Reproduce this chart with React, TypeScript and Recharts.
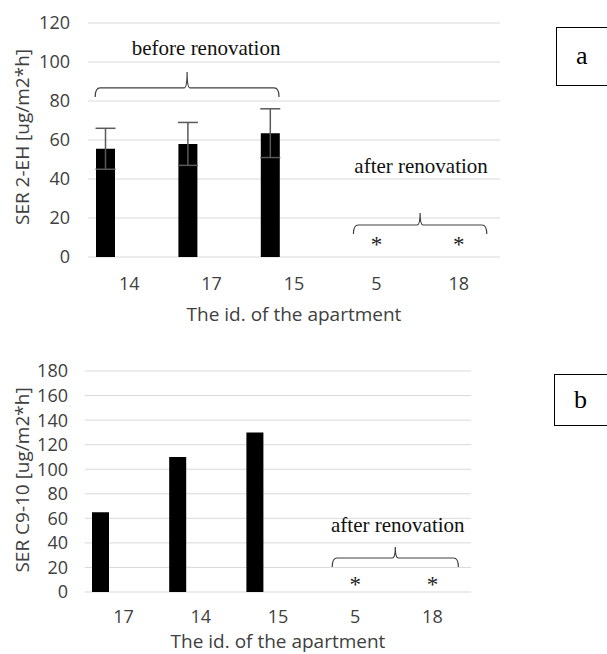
import React from "react";
import {
  Bar,
  BarChart,
  CartesianGrid,
  ErrorBar,
  Label,
  ReferenceDot,
  ReferenceLine,
  XAxis,
  YAxis
} from "recharts";

// panel a: SER of 2-EH
const idsA = ["14", "17", "15", "5", "18"];
const ser2EhBefore = [55.5, 58, 63.5, null, null];
const ser2EhSd = [10.5, 11, 12.5, null, null];
const ser2EhAfter = [null, null, null, 0, 0];
const ticksA = [0, 20, 40, 60, 80, 100, 120];

// panel b: SER of C9-10
const idsB = ["17", "14", "15", "5", "18"];
const serC910Before = [65, 110, 130, null, null];
const serC910After = [null, null, null, 0, 0];
const ticksB = [0, 20, 40, 60, 80, 100, 120, 140, 160, 180];

// ids measured after renovation, below detection (*)
const belowLod = ["5", "18"];

const dataA = idsA.map((id, i) => ({ id, before: ser2EhBefore[i], sd: ser2EhSd[i], after: ser2EhAfter[i] }));
const dataB = idsB.map((id, i) => ({ id, before: serC910Before[i], after: serC910After[i] }));

const SANS = "'Open Sans', sans-serif";
const SERIF = "'Liberation Serif', 'Times New Roman', serif";
const INK = "#404040";

function braceShape(text: string, padL: number, padR: number, tip: number, tdx: number, tdy: number) {
  return (p: any) => {
    const l = p.x1 + padL;
    const r = p.x2 + padR;
    const y = p.y1;
    const m = (l + r) / 2;
    const d =
      `M${l},${y + 9} Q${l},${y} ${l + 5},${y} L${m - 3},${y} Q${m},${y} ${m},${y - tip} ` +
      `Q${m},${y} ${m + 3},${y} L${r - 5},${y} Q${r},${y} ${r},${y + 9}`;
    return (
      <g>
        <path d={d} fill="none" stroke="#404040" strokeWidth={1.2} />
        <text x={m + tdx} y={y + tdy} textAnchor="middle" fontFamily={SERIF} fontSize={21} fill="#111">
          {text}
        </text>
      </g>
    );
  };
}

function starShape(dy: number) {
  return (p: any) => (
    <text x={p.cx} y={p.cy + dy} textAnchor="middle" fontFamily={SERIF} fontSize={23} fill="#222">
      *
    </text>
  );
}

function yTitle(text: string, x: number, dy: number) {
  return (props: any) => {
    const vb = props.viewBox ?? { x: 0, y: 0, width: 0, height: 0 };
    const cy = vb.y + vb.height / 2 + dy;
    return (
      <text x={x} y={cy} transform={`rotate(-90, ${x}, ${cy})`} textAnchor="middle" fontFamily={SANS} fontSize={19} fill={INK}>
        {text}
      </text>
    );
  };
}

function xTitle(text: string, dy: number) {
  return (props: any) => {
    const vb = props.viewBox ?? { x: 0, y: 0, width: 0, height: 0 };
    return (
      <text x={vb.x + vb.width / 2} y={vb.y + dy} textAnchor="middle" fontFamily={SANS} fontSize={19} fill={INK}>
        {text}
      </text>
    );
  };
}

const tickStyle = { fontSize: 18, fontFamily: SANS, fill: INK };

function PanelBox({ label, left, top, height }: { label: string; left: number; top: number; height: number }) {
  return (
    <div
      style={{
        position: "absolute",
        left,
        top,
        width: 70,
        height,
        border: "1.5px solid #000",
        boxSizing: "border-box",
        fontFamily: SERIF,
        fontSize: 26,
        lineHeight: `${height - 3}px`,
        paddingLeft: 19
      }}
    >
      {label}
    </div>
  );
}

export default function App() {
  return (
    <div style={{ position: "fixed", left: 0, top: 0, width: 607, height: 654, background: "#fff", overflow: "hidden" }}>
      <div style={{ position: "absolute", left: 0, top: 0 }}>
        <BarChart width={530} height={330} data={dataA} margin={{ top: 23, right: 30, bottom: 0, left: 0 }} barSize={19} barGap={29}>
          <CartesianGrid horizontal vertical={false} stroke="#d9d9d9" />
          <XAxis dataKey="id" axisLine={false} tickLine={false} tickSize={0} tickMargin={20} height={73} tick={tickStyle} interval={0}>
            <Label content={xTitle("The id. of the apartment", 64)} />
          </XAxis>
          <YAxis domain={[0, 120]} ticks={ticksA} interval={0} axisLine={false} tickLine={false} tickSize={0} tickMargin={18} width={88} tick={tickStyle}>
            <Label content={yTitle("SER 2-EH [ug/m2*h]", 29, -3)} />
          </YAxis>
          <Bar dataKey="before" fill="#000" isAnimationActive={false}>
            <ErrorBar dataKey="sd" direction="y" width={10} stroke="#595959" strokeWidth={1.5} />
          </Bar>
          <Bar dataKey="after" fill="#000" isAnimationActive={false} />
          <ReferenceLine
            segment={[{ x: "14", y: 86.7 }, { x: "15", y: 86.7 }]}
            shape={braceShape("before renovation", -34, -15, 16, 19, -33)}
          />
          <ReferenceLine
            segment={[{ x: "5", y: 16.4 }, { x: "18", y: 16.4 }]}
            shape={braceShape("after renovation", -23, 28, 12, 1, -52)}
          />
          {belowLod.map((id) => (
            <ReferenceDot key={id} x={id} y={0} r={0} shape={starShape(-5)} />
          ))}
        </BarChart>
      </div>
      <PanelBox label="a" left={556} top={27} height={59} />

      <div style={{ position: "absolute", left: 0, top: 330 }}>
        <BarChart width={500} height={324} data={dataB} margin={{ top: 41, right: 29, bottom: 0, left: 0 }} barSize={17} barGap={29}>
          <CartesianGrid horizontal vertical={false} stroke="#d9d9d9" />
          <XAxis dataKey="id" axisLine={false} tickLine={false} tickSize={0} tickMargin={18} height={62} tick={tickStyle} interval={0}>
            <Label content={xTitle("The id. of the apartment", 56)} />
          </XAxis>
          <YAxis domain={[0, 180]} ticks={ticksB} interval={0} axisLine={false} tickLine={false} tickSize={0} tickMargin={17} width={85} tick={tickStyle}>
            <Label content={yTitle("SER C9-10 [ug/m2*h]", 29, -1.5)} />
          </YAxis>
          <Bar dataKey="before" fill="#000" isAnimationActive={false} />
          <Bar dataKey="after" fill="#000" isAnimationActive={false} />
          <ReferenceLine
            segment={[{ x: "5", y: 27.7 }, { x: "18", y: 27.7 }]}
            shape={braceShape("after renovation", -23, 26, 11, 2.5, -26)}
          />
          {belowLod.map((id) => (
            <ReferenceDot key={id} x={id} y={0} r={0} shape={starShape(0)} />
          ))}
        </BarChart>
      </div>
      <PanelBox label="b" left={554} top={374} height={52} />
    </div>
  );
}
